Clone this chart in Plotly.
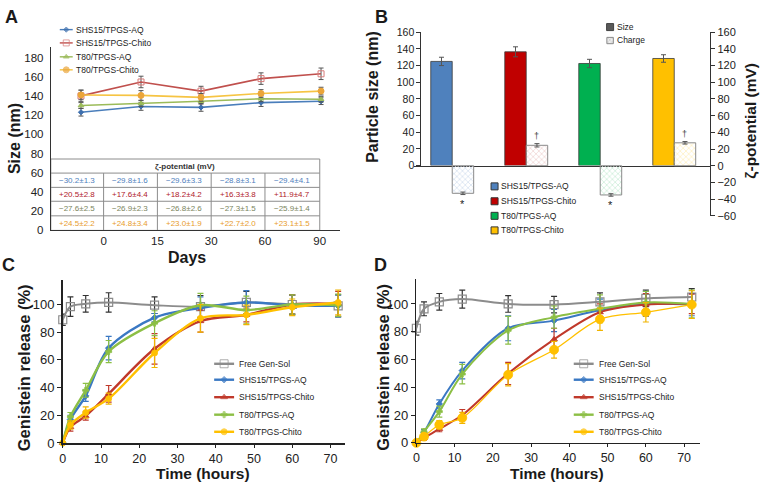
import plotly.graph_objects as go

W, H = 761, 490
FONT = "Liberation Sans, Arial, sans-serif"

# ---------------- Panel A data ----------------
a_days = ["0", "15", "30", "60", "90"]
a_names = ["SHS15/TPGS-AQ", "SHS15/TPGS-Chito", "T80/TPGS-AQ", "T80/TPGS-Chito"]
a_shs15_aq = [123, 129, 128, 133, 134.5]
a_shs15_chito = [140, 154.5, 145, 158, 163]
a_t80_aq = [130, 132, 134.5, 137, 136.5]
a_t80_chito = [141, 140.5, 138.5, 142.5, 145]
a_shs15_aq_err = [4, 4, 4, 4, 3.5]
a_shs15_chito_err = [6, 6, 5, 6, 6]
a_t80_aq_err = [3, 3, 3, 3, 3]
a_t80_chito_err = [5, 5, 4, 4, 4]
zeta_shs15_aq = ["−30.2±1.3", "−29.8±1.6", "−29.6±3.3", "−28.8±3.1", "−29.4±4.1"]
zeta_shs15_chito = ["+20.5±2.8", "+17.6±4.4", "+18.2±4.2", "+16.3±3.8", "+11.9±4.7"]
zeta_t80_aq = ["−27.6±2.5", "−26.9±2.3", "−26.8±2.6", "−27.3±1.5", "−25.9±1.4"]
zeta_t80_chito = ["+24.5±2.2", "+24.8±3.4", "+23.0±1.9", "+22.7±2.0", "+23.1±1.5"]

# ---------------- Panel B data ----------------
b_size = [125, 136.5, 122.5, 128.5]
b_size_err = [5, 6, 5, 4.5]
b_charge = [-33, 24.5, -35, 27.5]
b_charge_err = [1.5, 2, 1.5, 1.5]
b_marks = ["*", "†", "*", "†"]

# ---------------- Panels C & D data ----------------
time_h = [0, 2, 6, 12, 24, 36, 48, 60, 72]
c_free = [89, 98.5, 100.5, 101.5, 99.5, 98.5, 101.5, 100, 99]
c_shs15_aq = [0, 17, 34, 68.5, 90.5, 97.5, 101.5, 99.5, 99]
c_shs15_chito = [0, 11.5, 19.5, 35.5, 68, 88, 92.5, 100, 100.5]
c_t80_aq = [0, 19, 38, 66, 86.5, 99.5, 96, 100, 99.5]
c_t80_chito = [0, 13, 22, 32, 65, 90, 92.5, 98, 101.5]
c_free_err = [4, 7, 6, 7, 6, 8, 8, 7, 8]
c_shs15_aq_err = [0.5, 3, 4, 8.5, 3, 8, 8.5, 7, 8]
c_shs15_chito_err = [0.5, 3, 3, 6, 11, 8, 5, 7, 9]
c_t80_aq_err = [0.5, 3, 5, 8, 9, 8.5, 10, 7, 8]
c_t80_chito_err = [0.5, 3, 4, 4, 10.5, 10, 7, 6, 9]

d_free = [82.5, 96.5, 101.5, 103.5, 100, 99.5, 101.5, 104, 105]
d_shs15_aq = [0, 7.5, 28, 52, 82.5, 88, 95.5, 100, 99.5]
d_shs15_chito = [0, 3.5, 10, 20, 50, 74.5, 94, 99.5, 100]
d_t80_aq = [0, 8, 22.5, 49.5, 81, 90.5, 96.5, 101, 100]
d_t80_chito = [0, 4.5, 13, 18, 49, 67, 89, 94, 99.5]
d_free_err = [5, 5, 6, 6.5, 6, 6, 6.5, 6, 6]
d_shs15_aq_err = [0.5, 2, 3, 6, 9, 8, 8, 9, 8]
d_shs15_chito_err = [0.5, 1.5, 2, 4, 8, 8, 6, 8, 7]
d_t80_aq_err = [0.5, 2, 4, 7, 10, 8, 10, 8, 10]
d_t80_chito_err = [0.5, 2, 3, 4, 8, 6, 8, 7, 10]
cd_names = ["Free Gen-Sol", "SHS15/TPGS-AQ", "SHS15/TPGS-Chito", "T80/TPGS-AQ", "T80/TPGS-Chito"]


def X(p):
    return p / W


def Y(p):
    return 1 - p / H


fig = go.Figure()

# ================= Panel A =================
def a_ix(p):
    return (p - 78.3) / 60.25


def a_val(p):
    return (231 - p) / 0.989


col_edges = [a_ix(p) for p in (48, 101, 155, 209, 263, 318)]
row_edges = [a_val(p) for p in (231, 216, 201, 186.7, 172, 157.5)]

a_specs = [
    (a_shs15_aq, a_shs15_aq_err, "#4a7ebb", "diamond", 4, "#3d6fae"),
    (a_shs15_chito, a_shs15_chito_err, "#c0504d", "square-open", 6, "#d77b79"),
    (a_t80_aq, a_t80_aq_err, "#9bbb59", "triangle-up", 5, "#9bbb59"),
    (a_t80_chito, a_t80_chito_err, "#f6c443", "circle", 6, "#eba53a"),
]
for vals, errs, col, sym, ms, mc in a_specs:
    fig.add_trace(go.Scatter(
        x=list(range(len(vals))), y=vals, mode="lines+markers",
        line=dict(color=col, width=1.6),
        marker=dict(symbol=sym, size=ms, color=mc, line=dict(width=1, color=mc)),
        error_y=dict(type="data", array=errs, color="#555", thickness=1, width=2.5),
        xaxis="x", yaxis="y", showlegend=False, hoverinfo="skip", cliponaxis=False))

# table
tbl_line = dict(color="#8c8c8c", width=1)
fig.add_shape(type="rect", xref="x", yref="y", x0=col_edges[0], x1=col_edges[-1],
              y0=row_edges[0], y1=row_edges[-1], line=tbl_line, fillcolor="white", layer="below")
for r in row_edges[1:5]:
    fig.add_shape(type="line", xref="x", yref="y", x0=col_edges[0], x1=col_edges[-1],
                  y0=r, y1=r, line=tbl_line, layer="below")
for c in col_edges[1:5]:
    fig.add_shape(type="line", xref="x", yref="y", x0=c, x1=c,
                  y0=row_edges[0], y1=row_edges[4], line=tbl_line, layer="below")
fig.add_annotation(x=(col_edges[0] + col_edges[-1]) / 2, y=(row_edges[4] + row_edges[5]) / 2,
                   xref="x", yref="y", text="<b>ζ-potential (mV)</b>", showarrow=False,
                   font=dict(size=8, color="#333"))
zeta_rows = [(zeta_shs15_aq, "#4f81bd"), (zeta_shs15_chito, "#b0202a"),
             (zeta_t80_aq, "#7a8560"), (zeta_t80_chito, "#e89c2c")]
for ri, (texts, col) in enumerate(zeta_rows):
    yc = (row_edges[4 - ri] + row_edges[3 - ri]) / 2
    for ci, t in enumerate(texts):
        xc = (col_edges[ci] + col_edges[ci + 1]) / 2
        fig.add_annotation(x=xc, y=yc, xref="x", yref="y", text=t, showarrow=False,
                           font=dict(size=8, color=col))

# ================= Panel B =================
b_colors = ["#4f81bd", "#c00000", "#00b050", "#ffc000"]
b_light = ["#dce6f2", "#f2dcdb", "#d5f0df", "#fff2cc"]
b_pat = ["#9fb8dc", "#dc9a98", "#86d2a2", "#efd06a"]
gx = list(range(len(b_size)))
fig.add_trace(go.Bar(
    x=gx, y=b_size, width=0.29, offset=-0.29,
    marker=dict(color=b_colors, line=dict(color="#3a3a3a", width=0.8)),
    error_y=dict(type="data", array=b_size_err, color="#555", thickness=1, width=2.5),
    xaxis="x2", yaxis="y2", showlegend=False, hoverinfo="skip"))
fig.add_trace(go.Bar(
    x=gx, y=b_charge, width=0.29, offset=0,
    marker=dict(color=b_light, line=dict(color="#8a8a8a", width=1),
                pattern=dict(shape="x", fgcolor=b_pat, bgcolor=b_light, size=4,
                             solidity=0.4, fillmode="replace")),
    error_y=dict(type="data", array=b_charge_err, color="#555", thickness=1, width=2.5),
    xaxis="x2", yaxis="y3", showlegend=False, hoverinfo="skip"))
for i, m in enumerate(b_marks):
    v, e = b_charge[i], b_charge_err[i]
    if v < 0:
        fig.add_annotation(x=i + 0.145, y=v - e - 1.5, xref="x2", yref="y3", text=m,
                           showarrow=False, yanchor="top", font=dict(size=11, color="#222"))
    else:
        fig.add_annotation(x=i + 0.145, y=v + e + 0.5, xref="x2", yref="y3", text=m,
                           showarrow=False, yanchor="bottom", font=dict(size=9, color="#444"))

# ================= Panels C & D =================
cd_style = [
    ("#8c8c8c", "square-open", 8, "#8c8c8c", "#333333"),
    ("#3a78c3", "diamond", 5, "#3a78c3", "#3a78c3"),
    ("#c0392b", "triangle-up", 6, "#c0392b", "#c0392b"),
    ("#8cbf45", "cross", 5, "#8cbf45", "#8cbf45"),
    ("#ffc000", "circle", 6, "#ffc000", "#f0b400"),
]
c_sets = [(c_free, c_free_err), (c_shs15_aq, c_shs15_aq_err), (c_shs15_chito, c_shs15_chito_err),
          (c_t80_aq, c_t80_aq_err), (c_t80_chito, c_t80_chito_err)]
d_sets = [(d_free, d_free_err), (d_shs15_aq, d_shs15_aq_err), (d_shs15_chito, d_shs15_chito_err),
          (d_t80_aq, d_t80_aq_err), (d_t80_chito, d_t80_chito_err)]
for sets, xa, ya, widths, ysize in ((c_sets, "x3", "y4", [2, 2.4, 2.4, 2.4, 2.4], 6),
                                    (d_sets, "x4", "y5", [2, 2, 2, 2, 1.3], 9)):
    for k, (vals, errs) in enumerate(sets):
        col, sym, ms, mc, ec = cd_style[k]
        if k == 4:
            ms = ysize
        fig.add_trace(go.Scatter(
            x=time_h, y=vals, mode="lines+markers",
            line=dict(color=col, width=widths[k], shape="spline", smoothing=0.9),
            marker=dict(symbol=sym, size=ms, color=mc, line=dict(width=1.2 if k == 0 else 0.8, color=mc)),
            error_y=dict(type="data", array=errs, color=ec, thickness=1.2, width=3),
            xaxis=xa, yaxis=ya, showlegend=False, hoverinfo="skip", cliponaxis=False))

# ================= Manual legends (pixel overlay axis) =================
def leg_line(x0, x1, y, color, width, sym, ms, mc, label, tx, size=8.5):
    fig.add_trace(go.Scatter(
        x=[x0, (x0 + x1) / 2, x1], y=[y, y, y], mode="lines+markers",
        line=dict(color=color, width=width),
        marker=dict(symbol=sym, size=[0, ms, 0], color=mc, line=dict(width=1, color=mc)),
        xaxis="x5", yaxis="y6", showlegend=False, hoverinfo="skip", cliponaxis=False))
    fig.add_annotation(x=X(tx), y=Y(y), xref="paper", yref="paper", text=label, showarrow=False,
                       xanchor="left", yanchor="middle", font=dict(size=size, color="#222"))


for k, yy in enumerate([24.3, 38, 52.3, 65.7]):
    vals, errs, col, sym, ms, mc = a_specs[k]
    leg_line(57, 70, yy, col, 1.4, sym, ms, mc, a_names[k], 71)

for base_x, tx in ((212, 235), (573, 596)):
    for k, yy in enumerate([368.3, 384.7, 402.7, 420.7, 438.3]):
        col, sym, ms, mc, ec = cd_style[k]
        leg_line(base_x, base_x + 20, yy, col, 2.4, sym, ms, mc, cd_names[k], tx)

# Panel B legends
fig.add_trace(go.Scatter(x=[609.5], y=[21.7], mode="markers",
                         marker=dict(symbol="square", size=7, color="#595959", line=dict(width=1, color="#404040")),
                         xaxis="x5", yaxis="y6", showlegend=False, hoverinfo="skip"))
fig.add_trace(go.Bar(x=[609.5], y=[6.5], base=[32.3], width=6.5,
                     marker=dict(color="#e6e6e6", line=dict(color="#888", width=1),
                                 pattern=dict(shape="x", fgcolor="#aaaaaa", bgcolor="#eeeeee", size=3, solidity=0.4)),
                     xaxis="x5", yaxis="y6", showlegend=False, hoverinfo="skip"))
for lab_txt, yy in (("Size", 21.7), ("Charge", 35.5)):
    fig.add_annotation(x=X(614), y=Y(yy), xref="paper", yref="paper", text=lab_txt, showarrow=False,
                       xanchor="left", yanchor="middle", font=dict(size=8.5, color="#222"))
for k, yy in enumerate([185.7, 201, 216, 231]):
    fig.add_trace(go.Scatter(x=[493.5], y=[yy], mode="markers",
                             marker=dict(symbol="square", size=7, color=b_colors[k], line=dict(width=1, color="#333")),
                             xaxis="x5", yaxis="y6", showlegend=False, hoverinfo="skip"))
    fig.add_annotation(x=X(497.5), y=Y(yy), xref="paper", yref="paper", text=a_names[k], showarrow=False,
                       xanchor="left", yanchor="middle", font=dict(size=8.5, color="#222"))


# ================= Titles / labels =================
def lab(x, y, text, size, angle=0):
    fig.add_annotation(x=X(x), y=Y(y), xref="paper", yref="paper", text=f"<b>{text}</b>",
                       showarrow=False, textangle=angle, font=dict(size=size, color="#1a1a1a"),
                       borderpad=0, xanchor="center", yanchor="middle")


lab(9, 11, "A", 18)
lab(380, 11, "B", 18)
lab(6, 267, "C", 18)
lab(379, 267, "D", 18)
lab(11, 136, "Size (nm)", 16, -90)
lab(185, 259, "Days", 16)
lab(371, 94, "Particle size (nm)", 16, -90)
lab(751, 118, "ζ-potential (mV)", 15.5, -90)
lab(21, 372, "Genistein release (%)", 16.5, -90)
lab(382, 372, "Genistein release (%)", 16.5, -90)
lab(201, 481, "Time (hours)", 15.5)
lab(556, 481, "Time (hours)", 15.5)

# ================= Axes =================
base_ax = dict(showgrid=False, zeroline=False, linecolor="#333", showline=True)
tb = lambda s: dict(size=s, color="#222", family=FONT)

fig.update_layout(
    width=W, height=H, margin=dict(l=0, r=0, t=0, b=0),
    paper_bgcolor="white", plot_bgcolor="rgba(0,0,0,0)",
    showlegend=False, barmode="overlay",
    font=dict(family=FONT, color="#222"),
    xaxis=dict(base_ax, domain=[X(48), X(338)], range=[a_ix(48), a_ix(338)], anchor="y",
               tickmode="array", tickvals=col_edges[1:], ticktext=a_days, ticks="",
               tickfont=tb(11.5), linewidth=1),
    yaxis=dict(base_ax, domain=[Y(231), Y(42)], range=[0, a_val(42)], anchor="x",
               tickmode="array", tickvals=list(range(0, 181, 20)), ticks="",
               tickfont=tb(11.5), linewidth=1, ticklabelstandoff=4),
    xaxis2=dict(base_ax, domain=[X(413), X(710)], range=[(413 - 451) / 74.3, (710 - 451) / 74.3],
                anchor="y2", showticklabels=False, ticks="", linewidth=1),
    yaxis2=dict(base_ax, domain=[Y(164.3), Y(27)], range=[0, 160], anchor="free", position=X(419),
                tickmode="array", tickvals=list(range(0, 161, 20)), ticks="outside", ticklen=4,
                tickcolor="#333", tickfont=tb(10.5), linewidth=1),
    yaxis3=dict(base_ax, domain=[Y(216), Y(27)], range=[-60, 160], anchor="free", position=X(710),
                side="right", tickmode="array", tickvals=list(range(-60, 161, 20)), ticks="outside",
                ticklen=4, tickcolor="#333", tickfont=tb(11), linewidth=1),
    xaxis3=dict(base_ax, domain=[X(60), X(343)], range=[0, (343 - 60) / 3.84], anchor="y4",
                tickmode="array", tickvals=list(range(0, 71, 10)), ticks="outside", ticklen=3,
                tickcolor="#222", tickfont=tb(12.5), linewidth=1.6, linecolor="#222",
                ticklabelstandoff=0),
    yaxis4=dict(base_ax, domain=[Y(449.8), Y(281.7)], range=[0, (449.8 - 281.7) / 1.425], anchor="x3",
                tickmode="array", tickvals=list(range(0, 101, 20)), ticks="outside", ticklen=4,
                tickcolor="#222", tickfont=tb(13), linewidth=1.6, linecolor="#222"),
    xaxis4=dict(base_ax, domain=[X(415), X(700)], range=[0, (700 - 415) / 3.84], anchor="y5",
                tickmode="array", tickvals=list(range(0, 71, 10)), ticks="outside", ticklen=3,
                tickcolor="#222", tickfont=tb(12.5), linewidth=1.6, linecolor="#222",
                ticklabelstandoff=0),
    yaxis5=dict(base_ax, domain=[Y(449.7), Y(280.7)], range=[0, (449.7 - 280.7) / 1.43], anchor="x4",
                tickmode="array", tickvals=list(range(0, 101, 20)), ticks="outside", ticklen=4,
                tickcolor="#222", tickfont=tb(13), linewidth=1.6, linecolor="#222"),
    xaxis5=dict(domain=[0, 1], range=[0, W], visible=False, anchor="y6", fixedrange=True),
    yaxis6=dict(domain=[0, 1], range=[H, 0], visible=False, anchor="x5", fixedrange=True),
)

fig.write_html("out.html",
               config={"displayModeBar": False, "staticPlot": True},
               post_script="document.body.style.margin='0';document.body.style.overflow='hidden';")
